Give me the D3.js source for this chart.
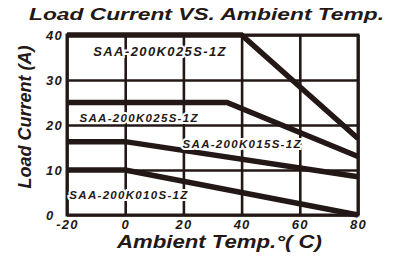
<!DOCTYPE html>
<html>
<head>
<meta charset="utf-8">
<script src="https://cdn.jsdelivr.net/npm/d3@7"></script>
<style>
  body { margin: 0; background: #fff; }
  svg { display: block; font-family: "Liberation Sans", Arial, sans-serif; }
  .tick text { font-size: 13px; font-weight: bold; font-style: italic; letter-spacing: 1.2px; fill: #231815; }
  .grid line { stroke: #231815; stroke-width: 2.6; }
</style>
</head>
<body>
<div id="chart"></div>
<script>
// ---- data ----
const X_TICKS = [-20, 0, 20, 40, 60, 80];
const Y_TICKS = [0, 10, 20, 30, 40];
const MODELS = ["SAA-200K025S-1Z", "SAA-200K025S-1Z", "SAA-200K015S-1Z", "SAA-200K010S-1Z"];
const CURVE_TEMP = [
    [-20, 40, 80],
    [-20, 35, 80],
    [-20, 0, 80],
    [-20, 0, 80],
];
const CURVE_AMPS = [
    [40, 40, 17],
    [25, 25, 13],
    [16.3, 16.3, 8.5],
    [10, 10, 0],
];

// ---- layout ----
const CFG = {
    W: 393, H: 262,
    PLOT_L: 67, PLOT_R: 358,
    PLOT_T: 35, PLOT_B: 215,
    Y_LABEL_X: 46,
    INK: "#231815",
};
// label anchors (temp, amps), text-anchor middle
const LABEL_AT = [
    {t: 12, a: 35.4, size: 13, ls: 1.4},
    {t: 4.8, a: 20.6, size: 11.5, ls: 1.3},
    {t: 40.2, a: 15.0, size: 11.5, ls: 1.3},
    {t: 1.3, a: 3.6, size: 11.5, ls: 1.3},
];

const x = d3.scaleLinear().domain([-20, 80]).range([CFG.PLOT_L, CFG.PLOT_R]);
const y = d3.scaleLinear().domain([0, 40]).range([CFG.PLOT_B, CFG.PLOT_T]);

const svg = d3.select("#chart").append("svg")
              .attr("width", CFG.W)
              .attr("height", CFG.H);

// title
svg.append("text")
   .attr("x", 29).attr("y", 20)
   .attr("textLength", 355)
   .attr("lengthAdjust", "spacingAndGlyphs")
   .style("font-size", "16.5px").style("font-weight", "bold").style("font-style", "italic")
   .attr("fill", CFG.INK)
   .text("Load Current VS.  Ambient Temp.");

// grid + ticks
svg.append("g")
   .attr("class", "grid")
   .attr("transform", "translate(0," + CFG.PLOT_B + ")")
   .call(d3.axisBottom(x).tickValues(X_TICKS).tickFormat(String)
           .tickSizeInner(-(CFG.PLOT_B - CFG.PLOT_T)).tickSizeOuter(0).tickPadding(5))
   .call((g) => g.select(".domain").remove());
svg.append("g")
   .attr("class", "grid")
   .attr("transform", "translate(" + CFG.PLOT_L + ",0)")
   .call(d3.axisLeft(y).tickValues(Y_TICKS).tickFormat(String)
           .tickSizeInner(-(CFG.PLOT_R - CFG.PLOT_L)).tickSizeOuter(0))
   .call((g) => g.select(".domain").remove())
   .call((g) => g.selectAll(".tick text")
                 .attr("x", CFG.Y_LABEL_X - CFG.PLOT_L)
                 .attr("text-anchor", "start"));

// frame
svg.append("rect")
   .attr("x", x(-20)).attr("y", y(40))
   .attr("width", x(80) - x(-20)).attr("height", y(0) - y(40))
   .attr("fill", "none")
   .attr("stroke", CFG.INK)
   .attr("stroke-width", 3);

// derating curves
const line = d3.line().x((d) => x(d[0])).y((d) => y(d[1]));
const curves = CURVE_TEMP.map((ts, i) => ts.map((t, j) => [t, CURVE_AMPS[i][j]]));
svg.append("g").selectAll("path")
   .data(curves)
   .enter()
   .append("path")
   .attr("d", line)
   .attr("fill", "none")
   .attr("stroke", CFG.INK)
   .attr("stroke-width", 5.5)
   .attr("stroke-linejoin", "miter");

// model labels
svg.append("g").selectAll("text")
   .data(MODELS)
   .enter()
   .append("text")
   .attr("x", (d, i) => x(LABEL_AT[i].t))
   .attr("y", (d, i) => y(LABEL_AT[i].a))
   .attr("text-anchor", "middle")
   .style("font-size", (d, i) => LABEL_AT[i].size + "px")
   .style("letter-spacing", (d, i) => LABEL_AT[i].ls + "px")
   .style("font-weight", "bold").style("font-style", "italic")
   .attr("fill", CFG.INK)
   .attr("stroke", "#fff")
   .attr("stroke-width", 4)
   .attr("paint-order", "stroke")
   .text((d) => d);

// axis titles
svg.append("text")
   .attr("transform", "translate(31,117) rotate(-90)")
   .attr("text-anchor", "middle")
   .style("font-size", "18px").style("font-weight", "bold").style("font-style", "italic")
   .attr("fill", CFG.INK)
   .text("Load Current (A)");
svg.append("text")
   .attr("x", 117).attr("y", 248)
   .attr("textLength", 205)
   .attr("lengthAdjust", "spacingAndGlyphs")
   .style("font-size", "18px").style("font-weight", "bold").style("font-style", "italic")
   .attr("fill", CFG.INK)
   .text("Ambient Temp.°( C)");
</script>
</body>
</html>
